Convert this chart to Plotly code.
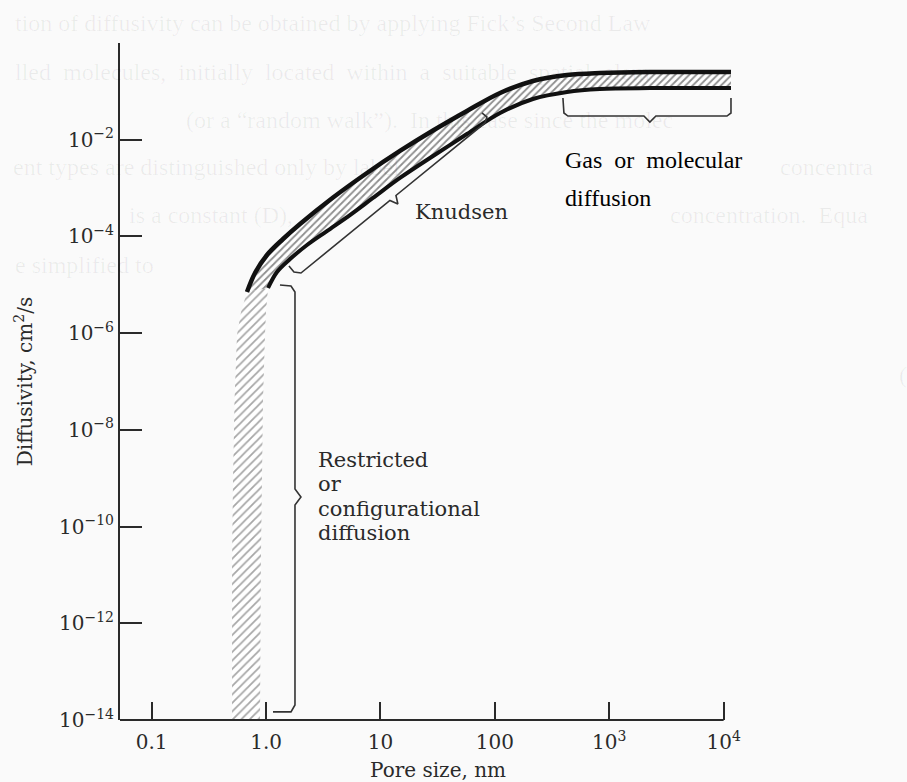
import math
import plotly.graph_objects as go

# ---------------- data ----------------
# upper edge of the diffusivity band (pore size nm, diffusivity cm2/s)
pore_upper = [0.681, 0.800, 1.018, 1.406, 1.98, 3.85, 7.62, 14.8, 28.8, 57.0, 111, 215, 427, 828, 2270, 11590]
diff_upper = [7.10e-6, 1.75e-5, 4.13e-5, 8.85e-5, 1.81e-4, 6.38e-4, 2.05e-3, 5.85e-3, 0.0155, 0.0393, 0.0925,
              0.164, 0.218, 0.240, 0.251, 0.251]
# lower edge of the band
pore_lower = [1.04, 1.245, 1.62, 2.28, 3.40, 5.41, 8.59, 14.8, 28.8, 57.0, 111, 215, 427, 828, 2270, 11590]
diff_lower = [8.59e-6, 1.84e-5, 3.41e-5, 6.65e-5, 1.29e-4, 2.77e-4, 6.24e-4, 1.62e-3, 4.61e-3, 0.0131, 0.0357,
              0.0695, 0.0970, 0.112, 0.117, 0.117]
# restricted / configurational region (top -> bottom)
pore_restr_left = [0.681, 0.604, 0.557, 0.530, 0.514, 0.504, 0.504]
diff_restr_left = [7.10e-6, 2.74e-6, 9.16e-7, 4.15e-8, 9.2e-10, 2.04e-11, 1e-14]
pore_restr_right = [1.04, 0.998, 0.978, 0.940, 0.921, 0.901, 0.885]
diff_restr_right = [8.59e-6, 2.74e-6, 9.16e-7, 4.15e-8, 9.2e-10, 2.04e-11, 1e-14]

# braces marking the regimes
pore_brace_knudsen = [1.585, 1.754, 2.018, 12.1, 14.2, 13.66, 81.9, 85.3, 77.1]
diff_brace_knudsen = [2.45e-5, 1.84e-5, 1.75e-5, 5.54e-4, 4.69e-4, 7.03e-4, 0.0222, 0.0295, 0.0357]
pore_brace_restr = [1.323, 1.651, 1.789, 1.789, 2.018, 1.789, 1.789, 1.651, 1.149]
diff_brace_restr = [9.9e-6, 9.45e-6, 7.10e-6, 6.0e-10, 4.09e-10, 2.80e-10, 2.05e-14, 1.47e-14, 1.47e-14]
pore_brace_gas = [393.6, 401.6, 435.3, 2009, 2265, 2557, 10690, 11590, 11590]
diff_brace_gas = [0.0729, 0.0357, 0.0309, 0.0309, 0.0232, 0.0309, 0.0309, 0.0357, 0.0729]

# tick labels
x_tickvals = [0.1, 1, 10, 100, 1000, 10000]
x_ticktext = ["0.1", "1.0", "10", "100", "10<sup>3</sup>", "10<sup>4</sup>"]
y_tickvals = [1e-14, 1e-12, 1e-10, 1e-8, 1e-6, 1e-4, 1e-2, 1]
y_ticktext = ["10<sup>\u221214</sup>", "10<sup>\u221212</sup>", "10<sup>\u221210</sup>", "10<sup>\u22128</sup>",
              "10<sup>\u22126</sup>", "10<sup>\u22124</sup>", "10<sup>\u22122</sup>", " "]

# labels (anchor positions in data units)
knudsen_label = ("Knudsen", 19.2, 3.2e-4)
restricted_lines = ["Restricted", "or", "configurational", "diffusion"]
restricted_x = 2.73
restricted_y = [2.38e-9, 7.43e-10, 2.31e-10, 7.2e-11]
gas_lines = ["Gas  or  molecular", "diffusion"]
gas_x = 393.6
gas_y = [3.81e-3, 6.24e-4]
x_title_pos = 31.6

# faint text of the scanned page showing through behind the figure (paper coords)
faint_lines = [
    ("tion of diffusivity can be obtained by applying Fick\u2019s Second Law", -0.175, 1.0295),
    ("lled  molecules,  initially  located  within  a  suitable  spatial  elem", -0.175, 0.957),
    ("(or a \u201crandom walk\u201d).  In this case since the molec", 0.105, 0.886),
    ("ent types are distinguished only by label", -0.178, 0.817),
    ("concentra", 1.075, 0.817),
    ("is a constant (D),", 0.012, 0.746),
    ("concentration.  Equa", 0.895, 0.746),
    ("e simplified to", -0.175, 0.672),
    ("(", 1.27, 0.510),
]

# ---------------- figure ----------------
XMIN, XMAX = -1.277, 4.073
YMIN, YMAX = -14, 0
INK = "#2a2a2a"
SERIF = "DejaVu Serif"

band_x = pore_upper + pore_lower[::-1]
band_y = diff_upper + diff_lower[::-1]
restr_x = pore_restr_left + pore_restr_right[::-1]
restr_y = diff_restr_left + diff_restr_right[::-1]

fig = go.Figure()
fig.add_trace(go.Scatter(
    x=restr_x, y=restr_y, mode="lines", fill="toself",
    line=dict(width=0, color="rgba(0,0,0,0)"),
    fillcolor="rgba(255,255,255,0)",
    fillpattern=dict(shape="/", fgcolor="#505050", bgcolor="#ffffff", size=6, solidity=0.3),
    hoverinfo="skip", showlegend=False))
fig.add_trace(go.Scatter(
    x=band_x, y=band_y, mode="lines", fill="toself",
    line=dict(width=0, color="rgba(0,0,0,0)"),
    fillcolor="rgba(255,255,255,0)",
    fillpattern=dict(shape="/", fgcolor="#1e1e1e", bgcolor="#ffffff", size=5, solidity=0.36),
    hoverinfo="skip", showlegend=False))
fig.add_trace(go.Scatter(x=pore_upper, y=diff_upper, mode="lines",
                         line=dict(color="#111111", width=4.5, shape="spline", smoothing=1.0),
                         hoverinfo="skip", showlegend=False))
fig.add_trace(go.Scatter(x=pore_lower, y=diff_lower, mode="lines",
                         line=dict(color="#111111", width=4, shape="spline", smoothing=1.0),
                         hoverinfo="skip", showlegend=False))
for bx, by in [(pore_brace_knudsen, diff_brace_knudsen), (pore_brace_restr, diff_brace_restr),
               (pore_brace_gas, diff_brace_gas)]:
    fig.add_trace(go.Scatter(x=bx, y=by, mode="lines",
                             line=dict(color="#333333", width=1.6),
                             hoverinfo="skip", showlegend=False))

annotations = []
for txt, px, py in faint_lines:
    annotations.append(dict(text=txt, xref="paper", yref="paper", x=px, y=py,
                            xanchor="left", yanchor="middle", showarrow=False,
                            font=dict(family="Liberation Serif", size=24, color="rgba(0,0,0,0.06)")))

annotations.append(dict(text=knudsen_label[0], x=math.log10(knudsen_label[1]), y=math.log10(knudsen_label[2]),
                        xref="x", yref="y", xanchor="left", yanchor="middle", showarrow=False,
                        font=dict(family=SERIF, size=21, color=INK)))
for txt, yy in zip(restricted_lines, restricted_y):
    annotations.append(dict(text=txt, x=math.log10(restricted_x), y=math.log10(yy), xref="x", yref="y",
                            xanchor="left", yanchor="middle", showarrow=False,
                            font=dict(family=SERIF, size=21, color=INK)))
for txt, yy in zip(gas_lines, gas_y):
    annotations.append(dict(text=txt, x=math.log10(gas_x), y=math.log10(yy), xref="x", yref="y",
                            xanchor="left", yanchor="middle", showarrow=False,
                            font=dict(family="Liberation Serif", size=24, color="#000000")))
annotations.append(dict(text="Pore size, nm", x=math.log10(x_title_pos), y=-0.074, xref="x", yref="paper",
                        xanchor="center", yanchor="middle", showarrow=False,
                        font=dict(family=SERIF, size=20, color=INK)))

x_end_paper = (math.log10(x_tickvals[-1]) - XMIN) / (XMAX - XMIN)

fig.update_layout(
    width=907, height=782,
    margin=dict(l=120, r=175, t=43, b=62, pad=0),
    paper_bgcolor="#fafafa", plot_bgcolor="#fafafa",
    showlegend=False,
    xaxis=dict(type="log", range=[XMIN, XMAX], tickvals=x_tickvals, ticktext=x_ticktext,
               ticks="inside", ticklen=18, tickwidth=2, tickcolor=INK, ticklabelstandoff=8,
               showline=False, showgrid=False, zeroline=False, automargin=False,
               tickfont=dict(family=SERIF, size=20, color=INK)),
    yaxis=dict(type="log", range=[YMIN, YMAX], tickvals=y_tickvals, ticktext=y_ticktext,
               ticks="inside", ticklen=22, tickwidth=2, tickcolor=INK,
               showline=True, linewidth=2, linecolor=INK,
               showgrid=False, zeroline=False, automargin=False,
               tickfont=dict(family=SERIF, size=20, color=INK),
               title=dict(text="Diffusivity, cm<sup>2</sup>/s", standoff=21,
                          font=dict(family=SERIF, size=20, color=INK))),
    annotations=annotations,
    shapes=[dict(type="line", xref="paper", yref="paper", x0=0, x1=x_end_paper, y0=0, y1=0,
                 line=dict(color=INK, width=2))],
)

fig.write_html("out.html")
